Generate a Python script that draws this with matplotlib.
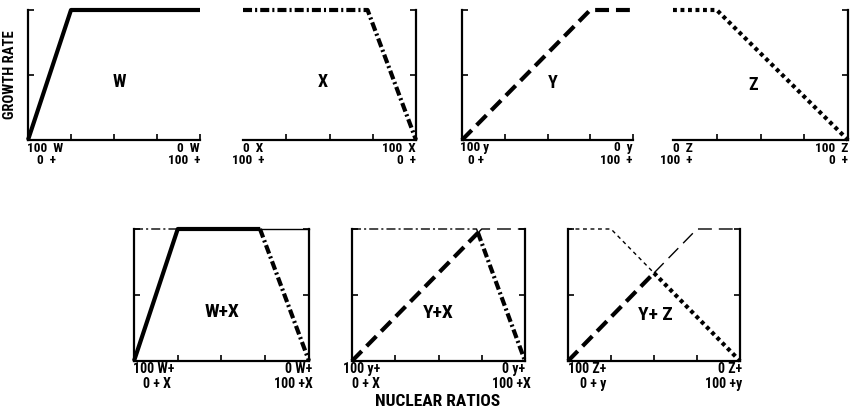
import numpy as np
import matplotlib
matplotlib.use("Agg")
import matplotlib.pyplot as plt

plt.rcParams['font.family'] = ['Liberation Sans Narrow', 'Roboto Condensed',
                               'DejaVu Sans Condensed', 'DejaVu Sans']
plt.rcParams['font.weight'] = 'bold'
plt.rcParams['lines.scale_dashes'] = False

# curve break points (fraction of ratio axis, relative growth rate)
w_x = [0, 0.25, 1]
w_y = [0, 1, 1]
x_x = [0, 0.72, 1]
x_y = [1, 1, 0]
y_x = [0, 0.75, 1]
y_y = [0, 1, 1]
z_x = [0, 0.25, 1]
z_y = [1, 1, 0]

curves = {"W": (w_x, w_y), "X": (x_x, x_y), "Y": (y_x, y_y), "Z": (z_x, z_y)}
styles = {
    "W": "-",
    "X": (0, (6.5, 2.2, 1.5, 2.2)),
    "Y": (0, (10, 5)),
    "Z": (0, (2.8, 2.6)),
}

top_panels = ["W", "X", "Y", "Z"]
bottom_panels = [("W", "X"), ("Y", "X"), ("Y", "Z")]
bottom_titles = ["W+X", "Y+X", "Y+ Z"]

# tick label text: (left line1, left line2, right line1, right line2)
top_labels = [
    ("100  W", "0  +", "0  W", "100  +"),
    ("0  X", "100  +", "100  X", "0  +"),
    ("100 y", "0 +", "0  y", "100  +"),
    ("0  Z", "100  +", "100  Z", "0  +"),
]
bottom_labels = [
    ("100 W+", "0 + X", "0 W+", "100 +X"),
    ("100 y+", "0 + X", "0 y+", "100 +X"),
    ("100 Z+", "0 + y", "0 Z+", "100 +y"),
]

W, H = 852, 412
fig = plt.figure(figsize=(W / 100, H / 100), dpi=100)

def px_axes(x0, x1, ytop, ybot):
    return fig.add_axes([x0 / W, 1 - ybot / H, (x1 - x0) / W, (ybot - ytop) / H])

def style_axes(ax, left, right):
    ax.set_xlim(0, 1)
    ax.set_ylim(0, 1)
    for s in ax.spines.values():
        s.set_linewidth(1.6)
    ax.spines['top'].set_visible(False)
    ax.spines['left'].set_visible(left)
    ax.spines['right'].set_visible(right)
    ax.set_xticks([0.25, 0.5, 0.75, 1.0])
    ax.set_yticks([0.5, 1.0])
    ax.tick_params(axis='x', direction='in', length=4, width=1.2, labelbottom=False)
    ax.tick_params(axis='y', direction='in', length=4, width=1.2, labelleft=False,
                   left=left, right=right)
    ax.patch.set_alpha(0)

top_pos = [(28, 200), (243, 416), (462, 633), (673, 848)]
top_side = [(True, False), (False, True), (True, False), (False, True)]
top_text = [(119, 82), (323, 82), (553, 83), (753, 85)]
top_lbl_x = [(27, 37, 200, 200), (243, 232, 416, 416), (460, 468, 633, 633), (673, 660, 848, 848)]

for i, name in enumerate(top_panels):
    ax = px_axes(top_pos[i][0], top_pos[i][1], 10, 140)
    style_axes(ax, *top_side[i])
    cx, cy = curves[name]
    ax.plot(cx, cy, color='black', lw=3.0, ls=styles[name], clip_on=False,
            solid_capstyle='butt')
    fig.text(top_text[i][0] / W, 1 - top_text[i][1] / H, name, ha='center', va='center',
             fontsize=13)
    l1, l2, r1, r2 = top_labels[i]
    a, b, c, d = top_lbl_x[i]
    fig.text(a / W, 1 - 148 / H, l1, ha='left', va='center', fontsize=9.5)
    fig.text(b / W, 1 - 160 / H, l2, ha='left', va='center', fontsize=9.5)
    fig.text(c / W, 1 - 148 / H, r1, ha='right', va='center', fontsize=9.5)
    fig.text(d / W, 1 - 160 / H, r2, ha='right', va='center', fontsize=9.5)

bot_pos = [(134, 309), (352, 525), (568, 740)]
bot_text = [(222, 312), (438, 313), (655, 315)]
bot_lbl_x = [(133, 143, 312, 313), (343, 352, 525, 531), (568, 580, 742, 742)]

grid = np.linspace(0, 1, 801)
for i, (a_name, b_name) in enumerate(bottom_panels):
    ax = px_axes(bot_pos[i][0], bot_pos[i][1], 229, 361)
    style_axes(ax, True, True)
    ya = np.interp(grid, *curves[a_name])
    yb = np.interp(grid, *curves[b_name])
    a_low = ya <= yb + 1e-9
    b_low = ~a_low
    # the limiting (lower) curve is drawn heavy, the other one light
    for nm, yy, low in [(a_name, ya, a_low), (b_name, yb, b_low)]:
        thin = ~low | np.roll(~low, 1) | np.roll(~low, -1)
        ax.plot(grid, np.ma.masked_where(~thin, yy), color='black', lw=1.0,
                ls=styles[nm], clip_on=False)
    for nm, yy, low in [(a_name, ya, a_low), (b_name, yb, b_low)]:
        thick = low | np.roll(low, 1) | np.roll(low, -1)
        ax.plot(grid, np.ma.masked_where(~thick, yy), color='black', lw=3.0,
                ls=styles[nm], clip_on=False, solid_capstyle='butt')
    fig.text(bot_text[i][0] / W, 1 - bot_text[i][1] / H, bottom_titles[i], ha='center',
             va='center', fontsize=14)
    l1, l2, r1, r2 = bottom_labels[i]
    a, b, c, d = bot_lbl_x[i]
    fig.text(a / W, 1 - 369 / H, l1, ha='left', va='center', fontsize=10)
    fig.text(b / W, 1 - 384 / H, l2, ha='left', va='center', fontsize=10)
    fig.text(c / W, 1 - 369 / H, r1, ha='right', va='center', fontsize=10)
    fig.text(d / W, 1 - 384 / H, r2, ha='right', va='center', fontsize=10)

fig.text(10 / W, 1 - 75 / H, "GROWTH RATE", rotation=90, ha='center', va='center',
         fontsize=10.5)
fig.text(438 / W, 1 - 401 / H, "NUCLEAR RATIOS", ha='center', va='center', fontsize=12.5)

fig.savefig("out.png", dpi=100)
